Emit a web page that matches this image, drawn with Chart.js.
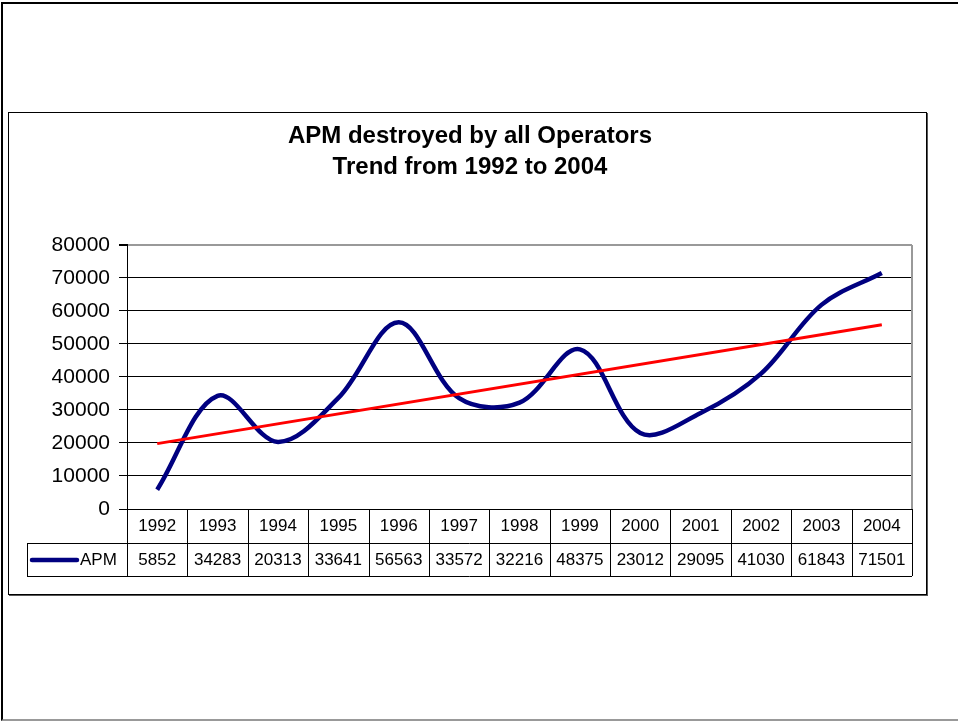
<!DOCTYPE html>
<html>
<head>
<meta charset="utf-8">
<title>APM destroyed by all Operators</title>
<script src="https://cdn.jsdelivr.net/npm/chart.js@4.4.0/dist/chart.umd.min.js"></script>
<style>
  html, body { margin: 0; padding: 0; background: #fff; }
  body { width: 958px; height: 721px; position: relative; overflow: hidden; }
  #page { position: absolute; left: 1px; top: 2px; width: 990px; height: 715px;
          border-top: 2px solid #000; border-left: 2px solid #000; border-bottom: 2px solid #999; }
  #box { position: absolute; left: 8px; top: 112px; width: 917px; height: 481px;
         border: 1px solid #000; box-shadow: 1px 1px 0 #555; }
  #chart { position: absolute; left: 0; top: 0; }
</style>
</head>
<body>
<div id="page"></div>
<div id="box"></div>
<canvas id="chart" width="958" height="721"></canvas>
<script>
// values (Excel line chart with data table)
var years = ["1992", "1993", "1994", "1995", "1996", "1997", "1998", "1999", "2000", "2001", "2002", "2003", "2004"];
var apm = [5852, 34283, 20313, 33641, 56563, 33572, 32216, 48375, 23012, 29095, 41030, 61843, 71501];
// linear trend line: only the two ends
var trend = [19800, null, null, null, null, null, null, null, null, null, null, null, 55800];
var yMin = 0;
var yMax = 80000;
var yStep = 10000;

var FONT = "Arial, 'Liberation Sans', sans-serif";
var NAVY = "#000080";

// draws the data table under the plot (years row + values row + legend key)
var dataTable = {
  id: "dataTable",
  afterDraw: function(chart) {
    var ctx = chart.ctx;
    var xs = chart.scales.x;
    var area = chart.chartArea;
    var cell = xs.getPixelForValue(1) - xs.getPixelForValue(0);
    var top = area.bottom;
    var mid = top + 34;
    var bot = top + 67;
    var keyLeft = 27;

    ctx.save();
    ctx.strokeStyle = "#000";
    ctx.lineWidth = 1;
    ctx.beginPath();
    ctx.moveTo(keyLeft, mid + 0.5); ctx.lineTo(area.right, mid + 0.5);
    ctx.moveTo(keyLeft, bot + 0.5); ctx.lineTo(area.right, bot + 0.5);
    ctx.moveTo(keyLeft + 0.5, mid); ctx.lineTo(keyLeft + 0.5, bot);
    for (var i = 0; i <= years.length; i++) {
      var bx = Math.round(xs.getPixelForValue(0) - cell / 2 + i * cell) + 0.5;
      ctx.moveTo(bx, top); ctx.lineTo(bx, bot);
    }
    ctx.stroke();

    ctx.fillStyle = "#000";
    ctx.font = "17px " + FONT;
    ctx.textAlign = "center";
    ctx.textBaseline = "middle";
    years.forEach(function(y, i) {
      var cx = xs.getPixelForValue(i);
      ctx.fillText(y, cx, top + 17.5);
      ctx.fillText(String(apm[i]), cx, mid + 17.5);
    });

    // legend key
    ctx.strokeStyle = NAVY;
    ctx.lineWidth = 4.5;
    ctx.lineCap = "round";
    ctx.beginPath();
    ctx.moveTo(32, mid + 17);
    ctx.lineTo(77, mid + 17);
    ctx.stroke();
    ctx.textAlign = "left";
    ctx.fillText("APM", 80, mid + 17.5);
    ctx.restore();
  },
  beforeDatasetsDraw: function(chart) {
    // grey plot-area border on the right
    var ctx = chart.ctx;
    var area = chart.chartArea;
    ctx.save();
    ctx.strokeStyle = "#999";
    ctx.lineWidth = 2;
    ctx.beginPath();
    ctx.moveTo(area.right, area.top);
    ctx.lineTo(area.right, area.bottom);
    ctx.stroke();
    ctx.restore();
  }
};

var ctx = document.getElementById("chart").getContext("2d");
var chart = new Chart(ctx, {
  type: "line",
  data: {
    labels: years,
    datasets: [
      {
        label: "APM",
        data: apm,
        borderColor: NAVY,
        borderWidth: 4.5,
        tension: 0.35,
        pointRadius: 0,
        fill: false,
        order: 2
      },
      {
        label: "Trend",
        data: trend,
        borderColor: "#ff0000",
        borderWidth: 3,
        tension: 0,
        spanGaps: true,
        pointRadius: 0,
        fill: false,
        order: 1
      }
    ]
  },
  options: {
    responsive: false,
    animation: false,
    devicePixelRatio: 1,
    layout: {
      padding: { left: 28, right: 46, top: 0, bottom: 145 }
    },
    plugins: {
      legend: { display: false },
      tooltip: { enabled: false },
      title: {
        display: true,
        text: ["APM destroyed by all Operators", "Trend from 1992 to 2004"],
        color: "#000",
        font: { family: FONT, size: 24, weight: "bold", lineHeight: 1.29 },
        padding: { top: 121, bottom: 62 }
      }
    },
    scales: {
      x: {
        offset: true,
        grid: { display: false },
        border: { display: true, color: "#000", width: 1 },
        ticks: { display: false },
        afterFit: function(scale) { scale.height = 67; }
      },
      y: {
        min: yMin,
        max: yMax,
        ticks: {
          stepSize: yStep,
          color: "#000",
          padding: 9,
          font: { family: FONT, size: 21 },
          callback: function(v) { return String(v); }
        },
        grid: {
          color: function(c) { return c.tick && c.tick.value === yMax ? "#999" : "#000"; },
          lineWidth: function(c) { return c.tick && c.tick.value === yMax ? 2 : 1; },
          tickColor: "#000",
          tickLength: 8
        },
        border: { color: "#000", width: 1 },
        afterFit: function(scale) { scale.width = 99; }
      }
    }
  },
  plugins: [dataTable]
});
</script>
</body>
</html>
